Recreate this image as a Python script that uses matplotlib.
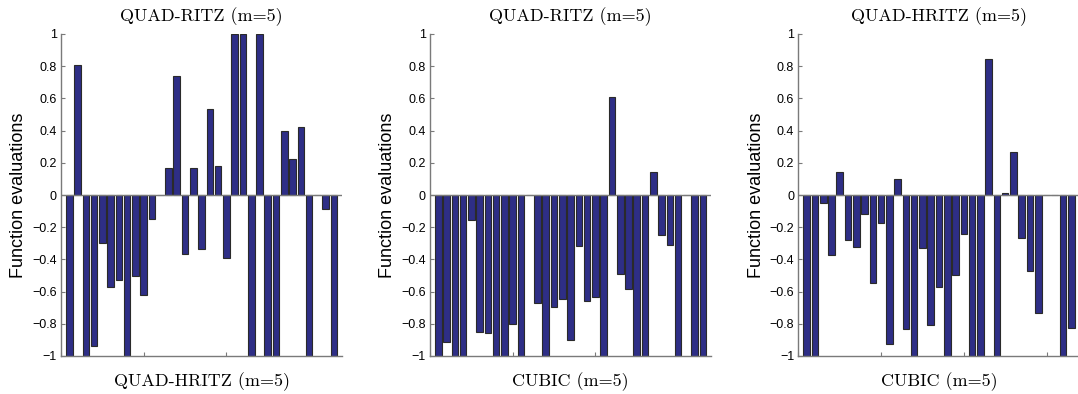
import numpy as np
import matplotlib
matplotlib.use('Agg')
import matplotlib.pyplot as plt

# values of the 33 test problems, one list per panel
vals_a = [-1, 0.81, -1, -0.94, -0.3, -0.57, -0.53, -1, -0.5, -0.62, -0.15, 0.0,
          0.17, 0.74, -0.365, 0.165, -0.335, 0.535, 0.18, -0.39, 1, 1, -1, 1,
          -1, -1, 0.4, 0.225, 0.42, -1, 0.0, -0.09, -1]
vals_b = [-1, -0.91, -1, -1, -0.155, -0.85, -0.86, -1, -1, -0.8, -1, 0.0,
          -0.67, -1, -0.695, -0.645, -0.9, -0.315, -0.66, -0.635, -1, 0.61,
          -0.49, -0.585, -1, -1, 0.14, -0.25, -0.31, -1, 0.0, -1, -1]
vals_c = [-1, -1, -0.05, -0.375, 0.145, -0.28, -0.325, -0.12, -0.545, -0.175,
          -0.925, 0.1, -0.835, -1, -0.33, -0.81, -0.57, -1, -0.495, -0.24, -1,
          -1, 0.845, -1, 0.01, 0.265, -0.265, -0.47, -0.73, 0.0, 0.0, -1, -0.825]

titles = ['QUAD-RITZ (m=5)', 'QUAD-RITZ (m=5)', 'QUAD-HRITZ (m=5)']
xlabels = ['QUAD-HRITZ (m=5)', 'CUBIC (m=5)', 'CUBIC (m=5)']
ylab = 'Function evaluations'
yticks = [-1, -0.8, -0.6, -0.4, -0.2, 0, 0.2, 0.4, 0.6, 0.8, 1]
yticklabels = ['\u22121', '\u22120.8', '\u22120.6', '\u22120.4', '\u22120.2', '0',
               '0.2', '0.4', '0.6', '0.8', '1']

W, H = 1078, 394
fig = plt.figure(figsize=(W / 100, H / 100), dpi=100)

lefts = [61.0, 430.0, 798.4]
aw = 281.2
bottom = 1 - 356 / H
ah = (356 - 34) / H

for i, vals in enumerate([vals_a, vals_b, vals_c]):
    ax = fig.add_axes([lefts[i] / W, bottom, aw / W, ah])
    x = np.arange(1, len(vals) + 1)
    ax.bar(x, vals, width=0.8, color='#2e2e86', edgecolor='#2a2a2a',
           linewidth=0.8, zorder=2)
    ax.axhline(0, color='#7a7a7a', lw=1.0, zorder=3)
    ax.set_xlim(0, len(vals) + 1)
    ax.set_ylim(-1, 1)
    ax.set_xticks([0, 10, 20, 30])
    ax.set_xticklabels([])
    ax.set_yticks(yticks)
    ax.set_yticklabels(yticklabels, fontfamily='Liberation Sans', fontsize=9)
    ax.tick_params(direction='in', length=3, color='#7a7a7a', width=0.8, pad=3)
    for s in ['top', 'right']:
        ax.spines[s].set_visible(False)
    for s in ['left', 'bottom']:
        ax.spines[s].set_color('#7a7a7a')
        ax.spines[s].set_linewidth(1.0)
    ax.set_title(titles[i], fontfamily='cmr10', fontsize=13, pad=9)
    ax.set_xlabel(xlabels[i], fontfamily='cmr10', fontsize=13, labelpad=9)
    ax.set_ylabel(ylab, fontfamily='Liberation Sans', fontsize=13)
    ax.yaxis.set_label_coords(-0.12, 0.5)

fig.savefig('out.png', dpi=100)
